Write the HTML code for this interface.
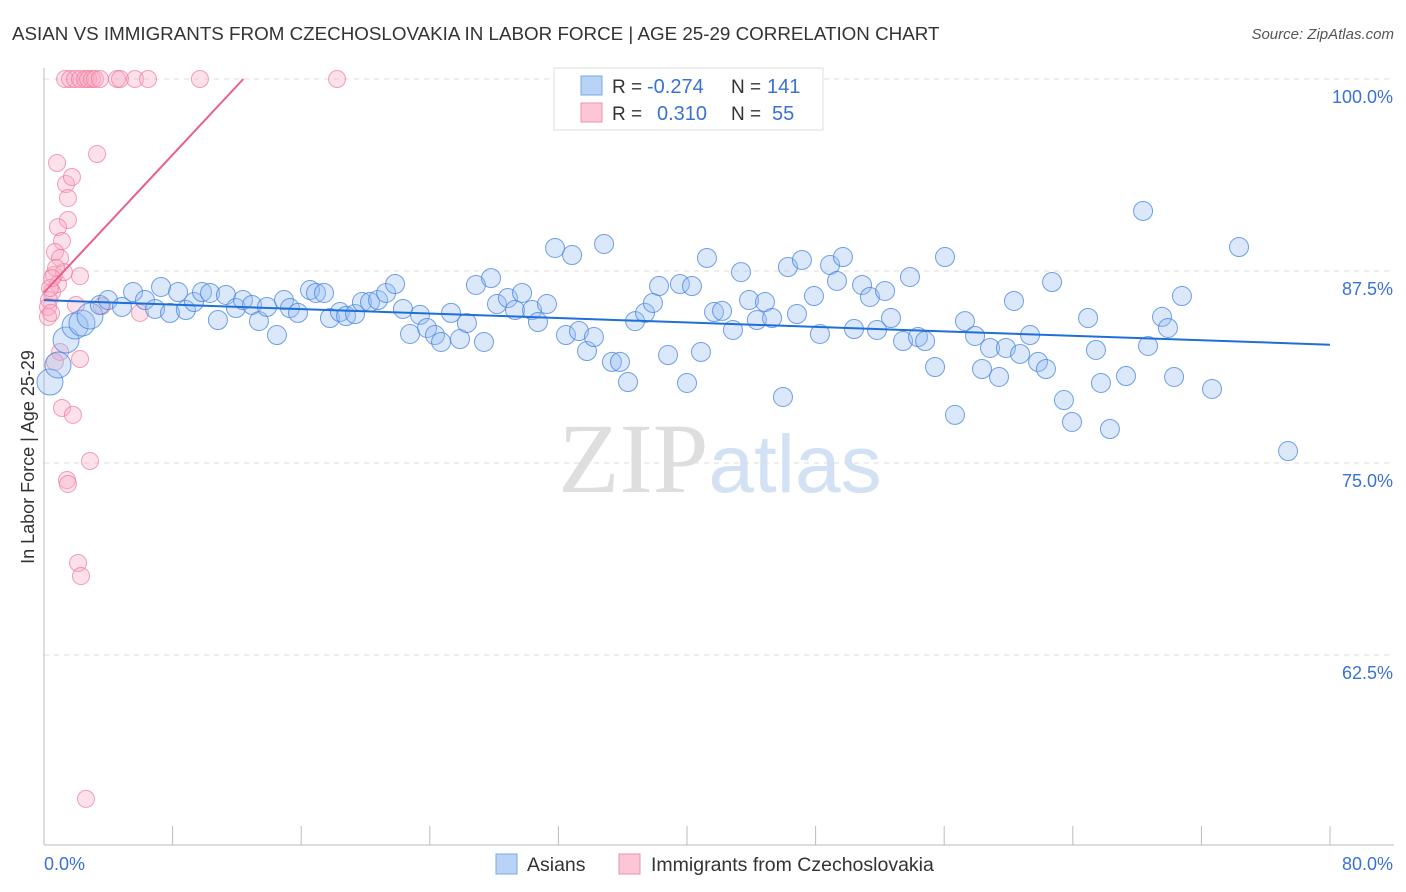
<!DOCTYPE html>
<html><head><meta charset="utf-8">
<style>
body{margin:0;background:#fff;font-family:"Liberation Sans",sans-serif;}
svg{display:block}
</style></head>
<body>
<svg id="chart" width="1406" height="892">
  <text x="12" y="40" font-size="18.8" fill="#333">ASIAN VS IMMIGRANTS FROM CZECHOSLOVAKIA IN LABOR FORCE | AGE 25-29 CORRELATION CHART</text>
  <text x="1394" y="39" font-size="15" fill="#555" font-style="italic" text-anchor="end">Source: ZipAtlas.com</text>
  <text x="720" y="492" font-size="100" fill="#dedede" text-anchor="middle" font-family="Liberation Serif,serif">ZIP<tspan fill="#d2e1f4" font-family="Liberation Sans,sans-serif" font-size="82">atlas</tspan></text>
  <g id="grid"></g>
  <g id="axes"></g>
  <g id="marks"></g>
  <text transform="translate(34,457) rotate(-90)" font-size="18" fill="#333" text-anchor="middle">In Labor Force | Age 25-29</text>
  <g>
    <rect x="554" y="68" width="269" height="62" fill="#fff" stroke="#ddd"/>
    <rect x="581" y="76" width="21" height="19" fill="#b8d3f5" stroke="#7aa8e6"/>
    <rect x="581" y="103" width="21" height="19" fill="#fcc6d6" stroke="#ee90aa"/>
    <text x="612" y="93" font-size="19" fill="#333">R = </text>
    <text x="647" y="93" font-size="20" fill="#3a72d0">-0.274</text>
    <text x="731" y="93" font-size="19" fill="#333">N = </text>
    <text x="767" y="93" font-size="20" fill="#3a72d0">141</text>
    <text x="612" y="120" font-size="19" fill="#333">R = </text>
    <text x="657" y="120" font-size="20" fill="#3a72d0">0.310</text>
    <text x="731" y="120" font-size="19" fill="#333">N = </text>
    <text x="772" y="120" font-size="20" fill="#3a72d0">55</text>
  </g>
  <g>
    <rect x="496" y="854" width="21" height="20" fill="#b8d3f5" stroke="#7aa8e6"/>
    <text x="527" y="871" font-size="19.5" fill="#333">Asians</text>
    <rect x="619" y="854" width="21" height="20" fill="#fcc6d6" stroke="#ee90aa"/>
    <text x="651" y="871" font-size="19.5" fill="#333">Immigrants from Czechoslovakia</text>
  </g>
</svg>
<script>
const xTickValues=[0,8,16,24,32,40,48,56,64,72,80];
const yTickValues=[100,87.5,75,62.5];
const yTickLabels=["100.0%","87.5%","75.0%","62.5%"];
const asiansPx=[[50,382],[58,365],[66,340],[75,326],[82,323],[90,316],[100,305],[108,300],[122,307],[133,292],[145,300],[155,309],[161,287],[170,313],[178,292],[186,310],[194,302],[202,292],[210,293],[218,320],[226,295],[236,308],[243,300],[252,305],[259,321],[267,307],[277,335],[284,300],[290,308],[298,313],[310,290],[316,293],[324,293],[330,318],[340,312],[346,316],[355,314],[362,302],[370,302],[378,300],[386,293],[395,284],[403,309],[410,334],[420,315],[427,328],[435,335],[441,342],[451,313],[460,339],[467,323],[476,285],[484,342],[491,278],[497,304],[508,298],[515,310],[522,293],[532,310],[538,322],[547,304],[555,248],[566,335],[572,255],[579,331],[587,351],[594,337],[604,244],[612,362],[620,362],[628,382],[635,321],[645,313],[653,303],[659,286],[668,355],[680,284],[687,383],[692,286],[701,352],[707,258],[714,312],[722,311],[733,330],[741,272],[749,300],[757,320],[765,302],[772,318],[783,397],[788,267],[797,314],[802,260],[814,296],[820,334],[830,265],[837,281],[843,257],[854,329],[862,285],[870,297],[877,330],[885,291],[891,318],[903,341],[910,277],[918,337],[925,341],[935,367],[945,257],[955,415],[965,321],[975,336],[982,369],[990,348],[999,377],[1006,348],[1014,301],[1020,354],[1030,335],[1038,362],[1046,369],[1052,282],[1064,400],[1072,422],[1088,318],[1096,350],[1101,383],[1110,429],[1126,376],[1143,211],[1148,346],[1162,317],[1168,328],[1174,377],[1182,296],[1212,389],[1239,247],[1288,451]];
const czechPx=[[65,79],[70,79],[75,79],[80,79],[85,79],[88,79],[92,79],[95,79],[100,79],[117,79],[120,79],[135,79],[148,79],[200,79],[337,79],[57,163],[97,154],[66,184],[72,177],[68,198],[68,220],[58,227],[62,241],[55,252],[60,258],[54,275],[58,284],[52,292],[49,300],[48,307],[48,317],[80,276],[64,272],[56,268],[76,305],[140,313],[102,306],[60,352],[55,362],[80,359],[62,408],[73,415],[90,461],[67,480],[68,484],[78,563],[81,576],[86,799],[50,288],[52,278],[51,313]];
const asiansX=asiansPx.map(p=>+((p[0]-44)/1286*80).toFixed(2));
const asiansY=asiansPx.map(p=>+(100-(p[1]-79)/192*12.5).toFixed(2));
const czechX=czechPx.map(p=>+((p[0]-44)/1286*80).toFixed(2));
const czechY=czechPx.map(p=>+(100-(p[1]-79)/192*12.5).toFixed(2));
const asiansTrend=[[0,85.6],[80,82.7]];
const czechTrend=[[0,86.1],[12.4,100]];

const NS="http://www.w3.org/2000/svg";
const sx=v=>44+v/80*1286;
const sy=v=>79+(100-v)/12.5*192;
function mk(tag,attrs,parent){const e=document.createElementNS(NS,tag);for(const k in attrs)e.setAttribute(k,attrs[k]);parent.appendChild(e);return e;}
const grid=document.getElementById('grid'),axes=document.getElementById('axes'),marks=document.getElementById('marks');
yTickValues.forEach((v,i)=>{
  const l=mk('line',{x1:44,x2:1394,y1:sy(v),y2:sy(v),stroke:'#ddd','stroke-dasharray':'5,5'},grid);
  
  
  const t=mk('text',{x:1393,y:sy(v)+24,'font-size':18,fill:'#3a72d0','text-anchor':'end'},axes);
  t.textContent=yTickLabels[i];
  
  
});
const ax=mk('line',{x1:44,x2:1394,y1:845,y2:845,stroke:'#bbb'},axes);


const ay=mk('line',{x1:44,x2:44,y1:68,y2:845,stroke:'#bbb'},axes);


xTickValues.forEach(v=>{
  const l=mk('line',{x1:sx(v),x2:sx(v),y1:826,y2:845,stroke:'#bbb'},axes);
  
  
});
[["0.0%",44,'start'],["80.0%",1393,'end']].forEach(a=>{
  const t=mk('text',{x:a[1],y:870,'font-size':18,fill:'#3a72d0','text-anchor':a[2]},axes);
  t.textContent=a[0];
  
  
});
czechX.forEach((x,i)=>{
  const c=mk('circle',{cx:sx(x),cy:sy(czechY[i]),r:8.5,fill:'rgba(248,170,195,0.35)',stroke:'rgba(236,120,155,0.7)','stroke-width':1},marks);
  
  
});
asiansX.forEach((x,i)=>{
  const c=mk('circle',{cx:sx(x),cy:sy(asiansY[i]),r:i<6?13:9.5,fill:'rgba(150,190,240,0.35)',stroke:'rgba(70,130,220,0.75)','stroke-width':1},marks);
  
  
});
const bt=mk('line',{x1:sx(asiansTrend[0][0]),y1:sy(asiansTrend[0][1]),x2:sx(asiansTrend[1][0]),y2:sy(asiansTrend[1][1]),stroke:'#1f6fd8','stroke-width':2},marks);


const pt=mk('line',{x1:sx(czechTrend[0][0]),y1:sy(czechTrend[0][1]),x2:sx(czechTrend[1][0]),y2:sy(czechTrend[1][1]),stroke:'#e8608a','stroke-width':2},marks);


</script>
</body></html>
